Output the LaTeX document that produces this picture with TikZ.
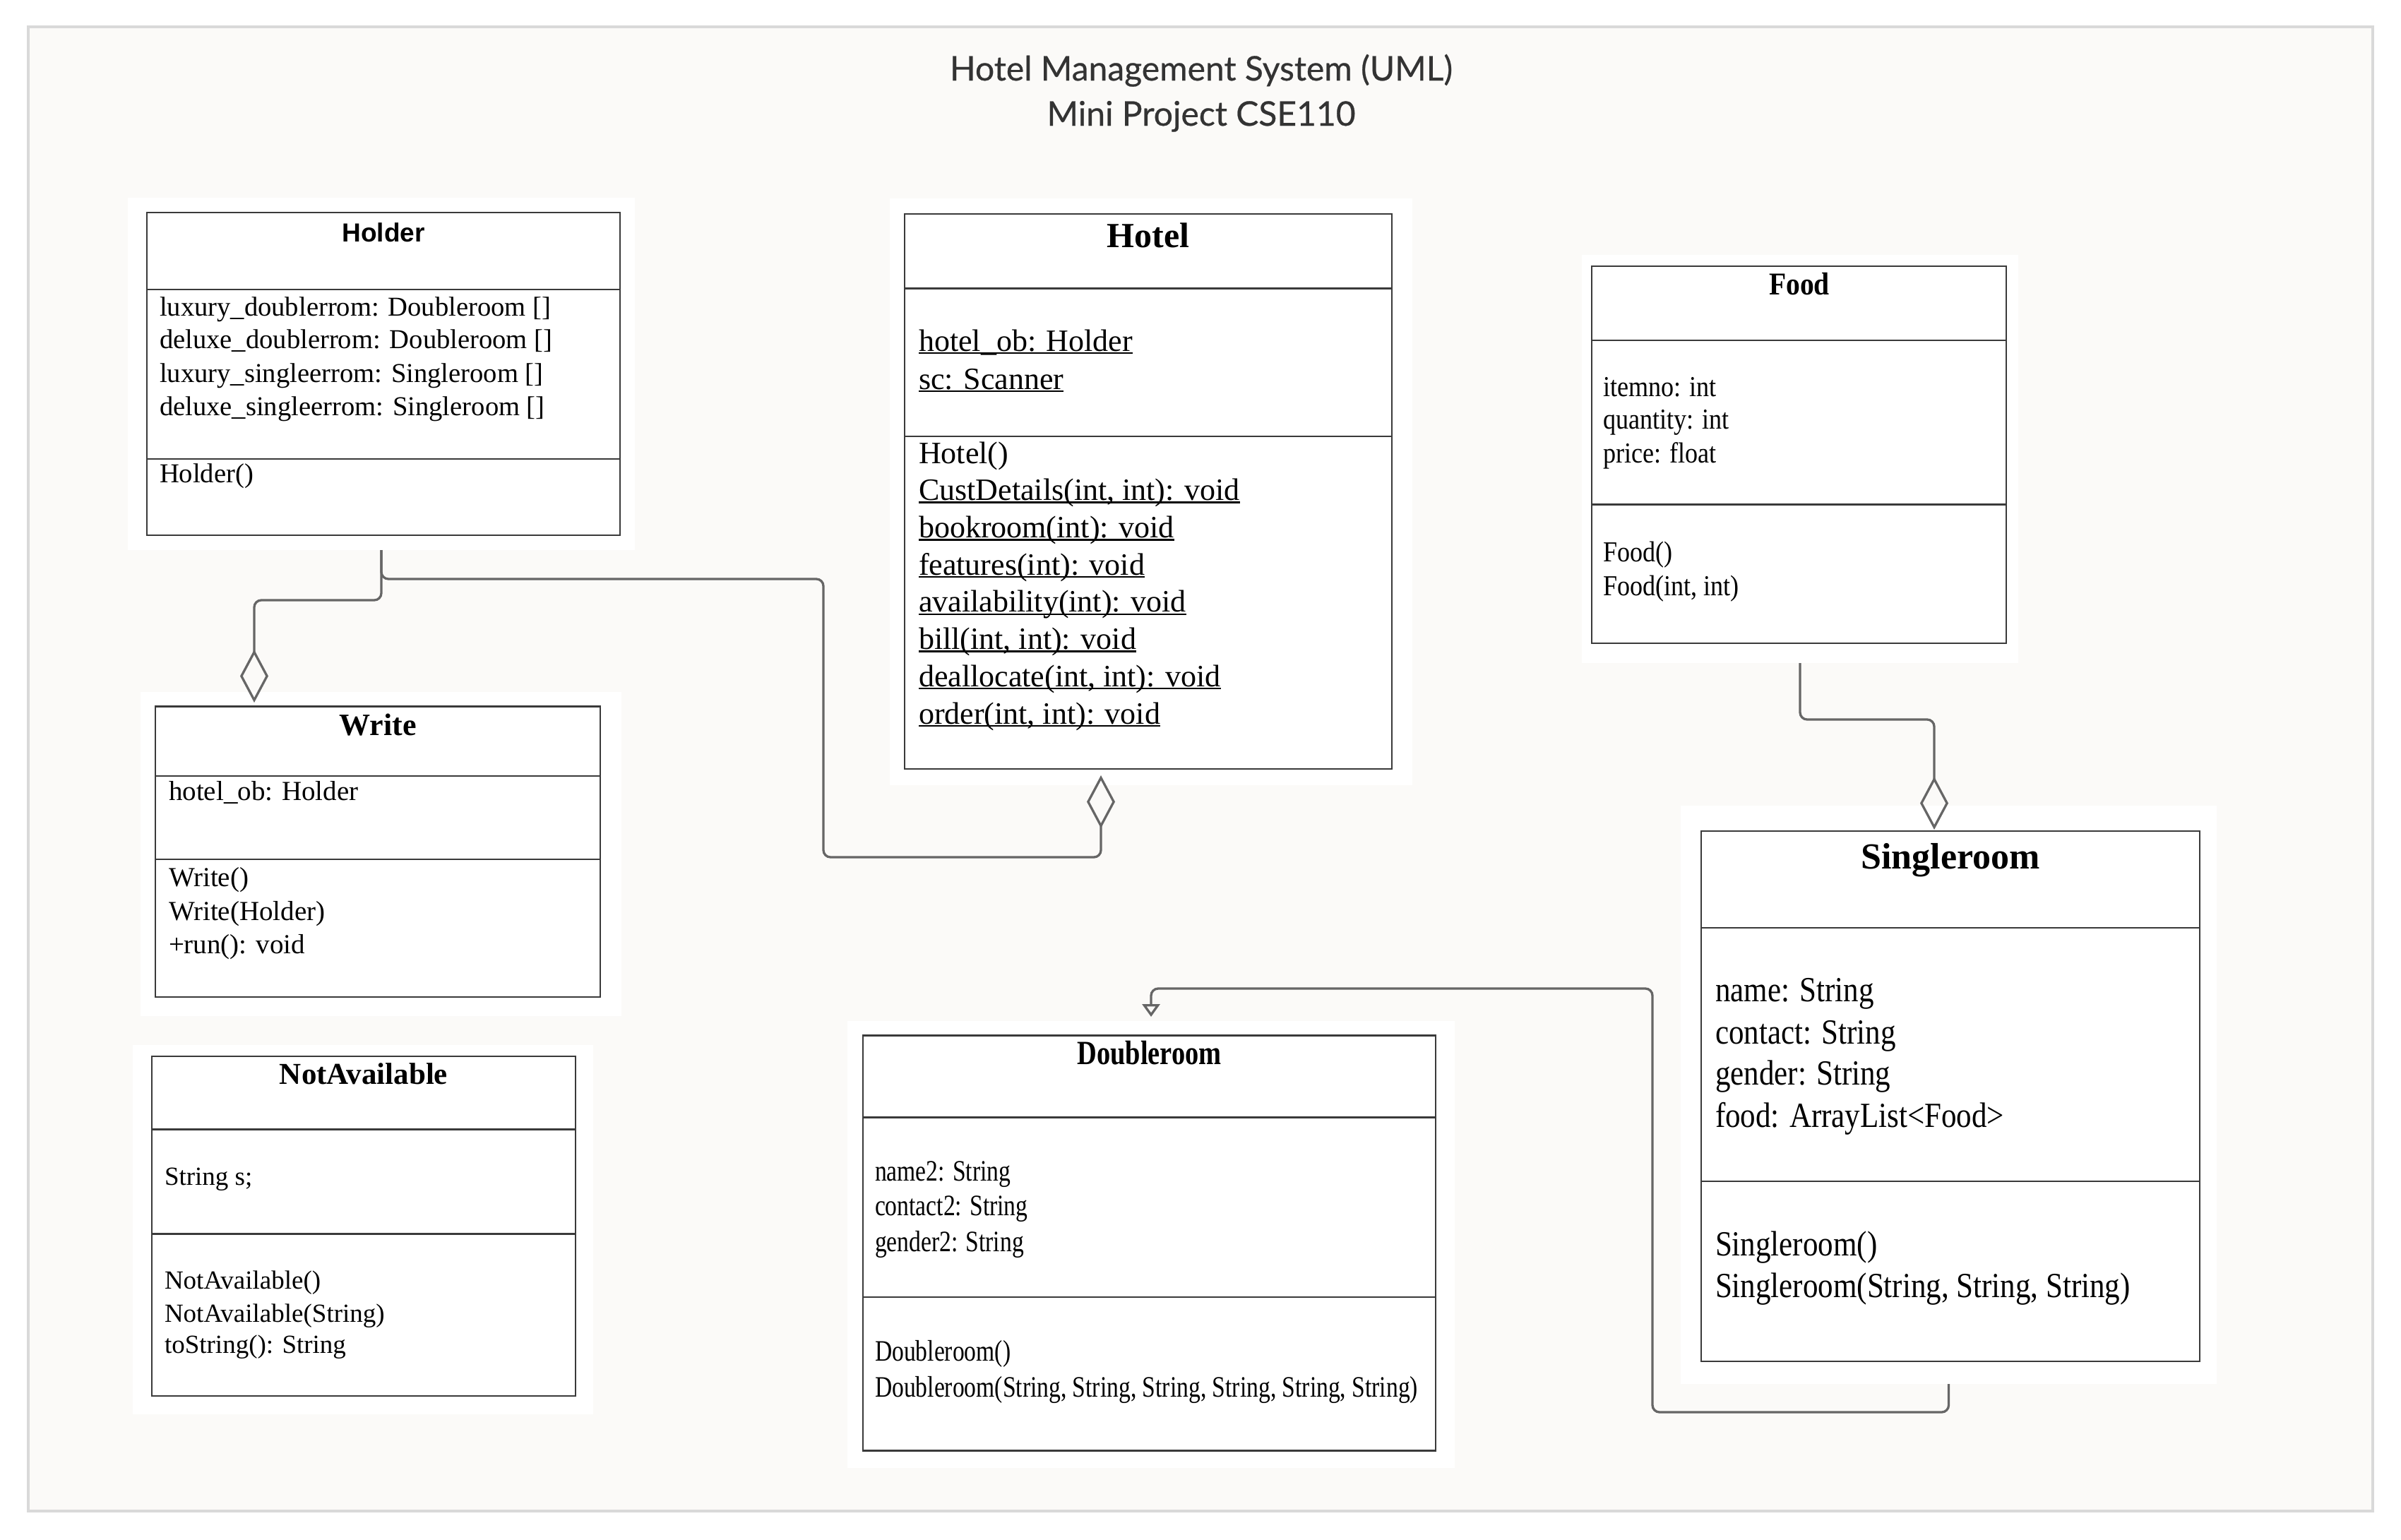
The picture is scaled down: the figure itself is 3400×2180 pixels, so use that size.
\documentclass[tikz,border=0pt]{standalone}
\usepackage{fontspec}
\setmainfont{Liberation Serif}
\newfontfamily\latofont[FakeBold=0.5]{Lato}
\newfontfamily\arialfont{Liberation Sans}
\newfontfamily\serifD[FakeStretch=0.80]{Liberation Serif}
\newfontfamily\serifS[FakeStretch=0.86]{Liberation Serif}
\newfontfamily\serifF[FakeStretch=0.88]{Liberation Serif}
\usetikzlibrary{arrows.meta}
\definecolor{pagebg}{HTML}{FBFAF8}
\definecolor{framec}{HTML}{D9D9D9}
\definecolor{connc}{HTML}{666666}
\definecolor{boxc}{HTML}{3A3A3A}
\definecolor{titlec}{HTML}{333333}
\newcommand\ulx[1]{\setbox0\hbox{#1}\rlap{\rule[-0.1em]{\wd0}{0.06em}}\box0}
\tikzset{
  bgbox/.style={fill=white, draw=none, inner sep=0pt, outer sep=0pt, rectangle},
  classbox/.style={draw=boxc, line width=2.5pt, fill=none, inner sep=0pt, outer sep=0pt, rectangle},
  divider/.style={draw=boxc, line width=2.5pt},
  conn/.style={draw=connc, line width=3.3pt, rounded corners=10pt},
  aggr/.style={conn, -{Diamond[open, length=75pt, width=40pt]}},
  gener/.style={conn, -{Triangle[open, length=18pt, width=25pt]}},
  txt/.style={anchor=base west, inner sep=0pt, outer sep=0pt, text=black},
  ttl/.style={anchor=base, inner sep=0pt, outer sep=0pt, text=black},
}
\newcommand\whitearea[5]{\node[bgbox, minimum width={(#4-#2)*1pt}, minimum height={(#5-#3)*1pt}] (#1) at ({(#2+#4)/2},{(#3+#5)/2}) {};}
\newcommand\classframe[7]{\node[classbox, minimum width={(#4-#2)*1pt}, minimum height={(#5-#3)*1pt}] (#1) at ({(#2+#4)/2},{(#3+#5)/2}) {};
  \draw[divider] (#2,#6) -- (#4,#6);
  \draw[divider] (#2,#7) -- (#4,#7);}
\begin{document}
\begin{tikzpicture}[x=1pt,y=-1pt]
\useasboundingbox (0,0) rectangle (3400,2180);
\fill[white] (0,0) rectangle (3400,2180);
\filldraw[fill=pagebg, draw=framec, line width=4pt] (40,38) rectangle (3360,2140);

% title
\node[anchor=base, inner sep=0pt, font=\latofont\fontsize{48}{58}\selectfont, text=titlec] (title1) at (1701,114) {Hotel Management System (UML)};
\node[anchor=base, inner sep=0pt, font=\latofont\fontsize{48}{58}\selectfont, text=titlec] (title2) at (1701,178) {Mini Project CSE110};

% white areas
\whitearea{holderbg}{181}{280}{899}{779}
\whitearea{hotelbg}{1260}{281}{2000}{1112}
\whitearea{foodbg}{2240}{361}{2858}{939}
\whitearea{writebg}{199}{980}{880}{1439}
\whitearea{notavbg}{188}{1480}{840}{2003}
\whitearea{doublebg}{1200}{1446}{2060}{2079}
\whitearea{singlebg}{2380}{1141}{3139}{1960}

% connector end points
\coordinate (wdia) at (360,995);
\coordinate (hdia) at (1559,1098);
\coordinate (sdia) at (2739,1175);
\coordinate (dtip) at (1630,1440);

% connectors
\draw[aggr] (holderbg.south) -- (540,850) -- (360,850) -- (wdia);
\draw[aggr] (holderbg.south) -- (540,820) -- (1166,820) -- (1166,1214) -- (1559,1214) -- (hdia);
\draw[aggr] (foodbg.south) -- (2549,1019) -- (2739,1019) -- (sdia);
\draw[gener] (singlebg.south) -- (2759.5,2000) -- (2340,2000) -- (2340,1400) -- (1630,1400) -- (dtip);

% Holder
\classframe{holder}{208}{301}{878}{758}{410}{650}
\node[ttl, font=\arialfont\bfseries\fontsize{37}{44}\selectfont] (holdert) at (543,342) {Holder};
\begin{scope}[every node/.style={txt, font=\fontsize{38.6}{46}\selectfont}]
\node (holdera1) at (226,447) {luxury\_doublerrom: Doubleroom []};
\node (holdera2) at (226,493) {deluxe\_doublerrom: Doubleroom []};
\node (holdera3) at (226,541) {luxury\_singleerrom: Singleroom []};
\node (holdera4) at (226,588) {deluxe\_singleerrom: Singleroom []};
\node (holderm1) at (226,683) {Holder()};
\end{scope}

% Hotel
\classframe{hotel}{1281}{303}{1971}{1089}{408.5}{618}
\node[ttl, font=\bfseries\fontsize{50}{60}\selectfont] (hotelt) at (1626,350) {Hotel};
\begin{scope}[every node/.style={txt, font=\fontsize{44}{53}\selectfont}]
\node (hotela1) at (1301,497) {\ulx{hotel\_ob: Holder}};
\node (hotela2) at (1301,551) {\ulx{sc: Scanner}};
\node (hotelm1) at (1301,656) {Hotel()};
\node (hotelm2) at (1301,708.7) {\ulx{CustDetails(int, int): void}};
\node (hotelm3) at (1301,761.4) {\ulx{bookroom(int): void}};
\node (hotelm4) at (1301,814) {\ulx{features(int): void}};
\node (hotelm5) at (1301,866.8) {\ulx{availability(int): void}};
\node (hotelm6) at (1301,919.5) {\ulx{bill(int, int): void}};
\node (hotelm7) at (1301,972) {\ulx{deallocate(int, int): void}};
\node (hotelm8) at (1301,1025) {\ulx{order(int, int): void}};
\end{scope}

% Food
\classframe{food}{2254}{377}{2841}{911}{482}{714.5}
\node[ttl, font=\serifF\bfseries\fontsize{45}{54}\selectfont] (foodt) at (2548,417) {Food};
\begin{scope}[every node/.style={txt, font=\serifF\fontsize{41}{47}\selectfont}]
\node (fooda1) at (2270,561) {itemno: int};
\node (fooda2) at (2270,607) {quantity: int};
\node (fooda3) at (2270,655) {price: float};
\node (foodm1) at (2270,795) {Food()};
\node (foodm2) at (2270,843) {Food(int, int)};
\end{scope}

% Write
\classframe{write}{220}{1000.5}{850}{1412}{1099}{1217}
\node[ttl, font=\bfseries\fontsize{44}{53}\selectfont] (writet) at (535,1041) {Write};
\begin{scope}[every node/.style={txt, font=\fontsize{39}{47}\selectfont}]
\node (writea1) at (239,1133) {hotel\_ob: Holder};
\node (writem1) at (239,1255) {Write()};
\node (writem2) at (239,1303) {Write(Holder)};
\node (writem3) at (239,1350) {+run(): void};
\end{scope}

% NotAvailable
\classframe{notav}{215}{1496}{815}{1977}{1599.5}{1747.5}
\node[ttl, font=\bfseries\fontsize{43}{52}\selectfont] (notavt) at (515,1535) {NotAvailable};
\begin{scope}[every node/.style={txt, font=\fontsize{37}{46}\selectfont}]
\node (notava1) at (233,1678) {String s;};
\node (notavm1) at (233,1825) {NotAvailable()};
\node (notavm2) at (233,1872) {NotAvailable(String)};
\node (notavm3) at (233,1916) {toString(): String};
\end{scope}

% Doubleroom
\classframe{double}{1222}{1466.5}{2033}{2054.5}{1582.5}{1837}
\node[ttl, font=\serifD\bfseries\fontsize{48}{56}\selectfont] (doublet) at (1627.5,1507) {Doubleroom};
\begin{scope}[every node/.style={txt, font=\serifD\fontsize{42}{50}\selectfont}]
\node (doublea1) at (1239,1672) {name2: String};
\node (doublea2) at (1239,1721) {contact2: String};
\node (doublea3) at (1239,1772) {gender2: String};
\node (doublem1) at (1239,1927) {Doubleroom()};
\node (doublem2) at (1239,1978) {Doubleroom(String, String, String, String, String, String)};
\end{scope}

% Singleroom
\classframe{single}{2409}{1177}{3115}{1928}{1314}{1673}
\node[ttl, font=\bfseries\fontsize{52}{62}\selectfont] (singlet) at (2762,1230) {Singleroom};
\begin{scope}[every node/.style={txt, font=\serifS\fontsize{50}{60}\selectfont}]
\node (singlea1) at (2429,1418) {name: String};
\node (singlea2) at (2429,1478) {contact: String};
\node (singlea3) at (2429,1536) {gender: String};
\node (singlea4) at (2429,1596) {food: ArrayList<Food>};
\node (singlem1) at (2429,1778) {Singleroom()};
\node (singlem2) at (2429,1837) {Singleroom(String, String, String)};
\end{scope}
\end{tikzpicture}
\end{document}
